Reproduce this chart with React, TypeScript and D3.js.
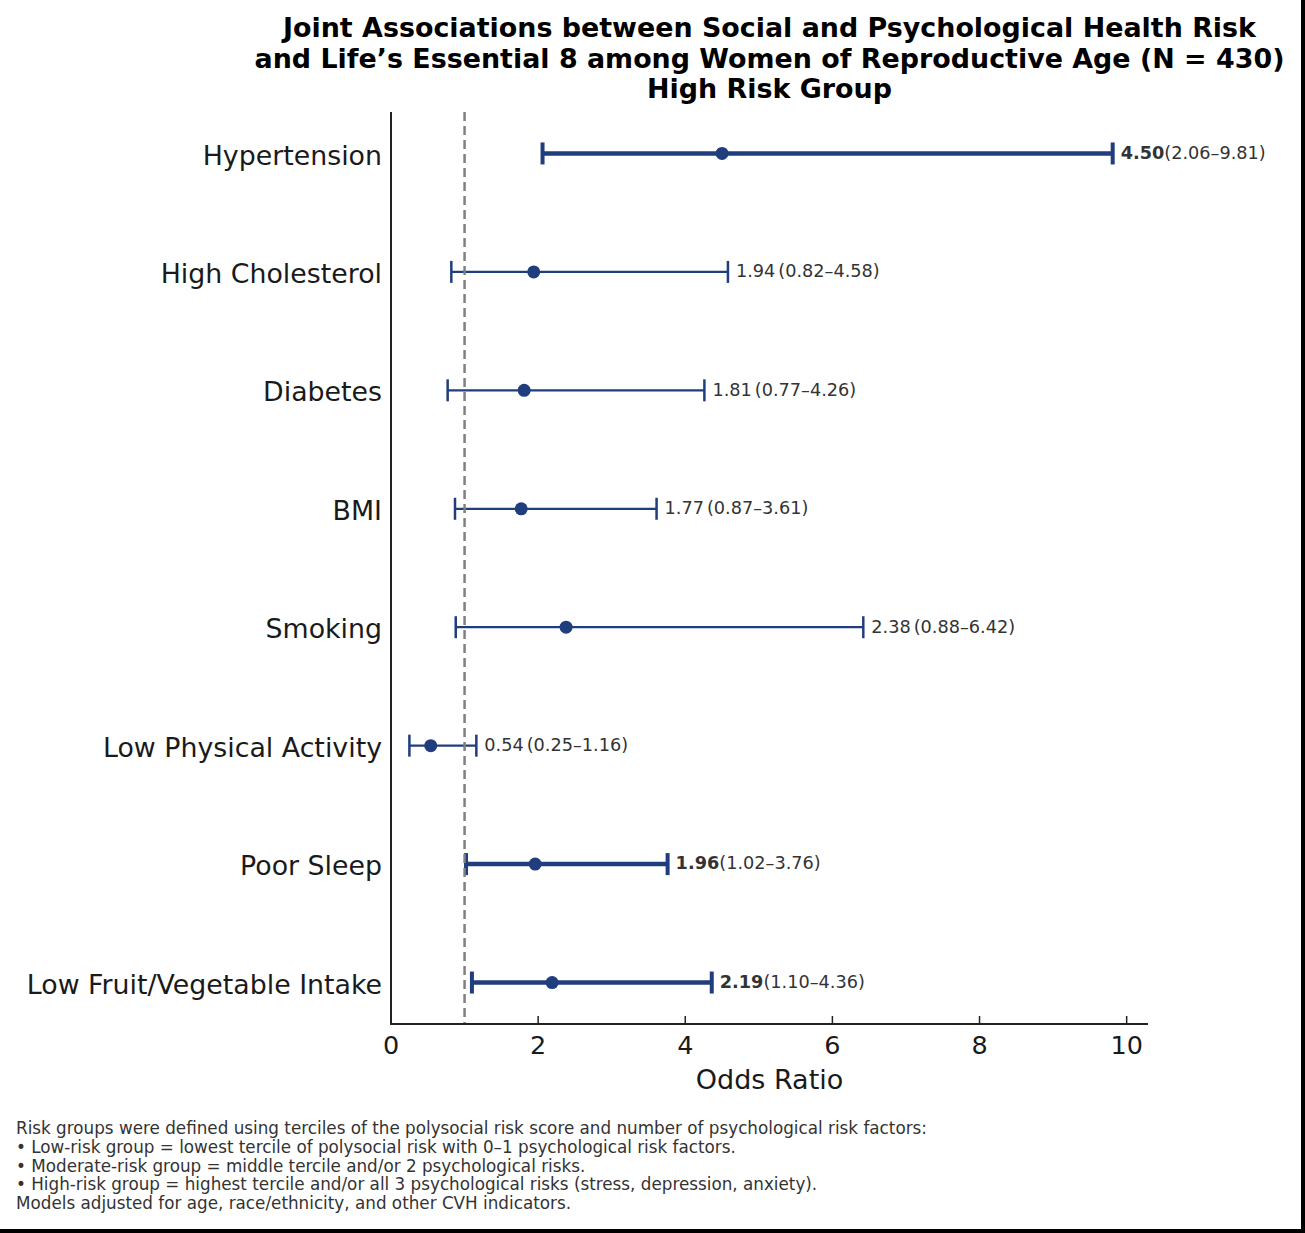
import React from "react";
import * as d3 from "d3";

const categories = [
  "Hypertension",
  "High Cholesterol",
  "Diabetes",
  "BMI",
  "Smoking",
  "Low Physical Activity",
  "Poor Sleep",
  "Low Fruit/Vegetable Intake",
];
const oddsRatios = [4.5, 1.94, 1.81, 1.77, 2.38, 0.54, 1.96, 2.19];
const ciLower = [2.06, 0.82, 0.77, 0.87, 0.88, 0.25, 1.02, 1.1];
const ciUpper = [9.81, 4.58, 4.26, 3.61, 6.42, 1.16, 3.76, 4.36];
const xTicks = [0, 2, 4, 6, 8, 10];

const titleLines = [
  "Joint Associations between Social and Psychological Health Risk",
  "and Life\u2019s Essential 8 among Women of Reproductive Age (N = 430)",
  "High Risk Group",
];
const footnoteLines = [
  "Risk groups were defined using terciles of the polysocial risk score and number of psychological risk factors:",
  "\u2022 Low-risk group = lowest tercile of polysocial risk with 0\u20131 psychological risk factors.",
  "\u2022 Moderate-risk group = middle tercile and/or 2 psychological risks.",
  "\u2022 High-risk group = highest tercile and/or all 3 psychological risks (stress, depression, anxiety).",
  "Models adjusted for age, race/ethnicity, and other CVH indicators.",
];

const W = 1305;
const H = 1233;
const FONT = "'DejaVu Sans', sans-serif";
const NAVY = "#203d7d";

const App: React.FC = () => {
  // plot area
  const left = 391;
  const right = 1148;
  const top = 112;
  const bottom = 1024;

  const x = d3.scaleLinear().domain([0, 10.29]).range([left, right]);
  const y = d3.scalePoint<string>().domain(categories).range([top, bottom]).padding(0.35);

  const fmt = d3.format(".2f");

  return (
    <svg
      width={W}
      height={H}
      style={{ position: "absolute", left: 0, top: 0, fontFamily: FONT }}
    >
      <rect width={W} height={H} fill="white" />

      {/* title */}
      <text textAnchor="middle" fontWeight="bold" fontSize={26.9} fill="#000">
        {titleLines.map((t, i) => (
          <tspan key={i} x={(left + right) / 2} y={37 + i * 30.5}>
            {t}
          </tspan>
        ))}
      </text>

      {/* category labels */}
      {categories.map(c => (
        <text
          key={c}
          x={left - 9}
          y={(y(c) as number) + 1.5}
          dy="0.36em"
          textAnchor="end"
          fontSize={26.8}
          fill="#1a1a1a"
        >
          {c}
        </text>
      ))}

      {/* error bars + points */}
      {categories.map((c, i) => {
        const sig = ciLower[i] > 1;
        const yy = y(c) as number;
        const sw = sig ? 4.5 : 2.2;
        const capW = sig ? 4 : 2.5;
        return (
          <g key={c}>
            <line x1={x(ciLower[i])} x2={x(ciUpper[i])} y1={yy} y2={yy} stroke={NAVY} strokeWidth={sw} />
            <line x1={x(ciLower[i])} x2={x(ciLower[i])} y1={yy - 11} y2={yy + 11} stroke={NAVY} strokeWidth={capW} />
            <line x1={x(ciUpper[i])} x2={x(ciUpper[i])} y1={yy - 11} y2={yy + 11} stroke={NAVY} strokeWidth={capW} />
            <circle cx={x(oddsRatios[i])} cy={yy} r={6.5} fill={NAVY} />
            <text x={x(ciUpper[i]) + 8} y={yy} dy="0.3em" fontSize={17.7} fill="#333">
              {sig ? (
                <>
                  <tspan fontWeight="bold">{fmt(oddsRatios[i])}</tspan>
                  <tspan>{`(${fmt(ciLower[i])}\u2013${fmt(ciUpper[i])})`}</tspan>
                </>
              ) : (
                <>
                  <tspan>{fmt(oddsRatios[i])}</tspan>
                  <tspan dx={3}>{`(${fmt(ciLower[i])}\u2013${fmt(ciUpper[i])})`}</tspan>
                </>
              )}
            </text>
          </g>
        );
      })}

      {/* reference line at OR = 1 */}
      <line
        x1={x(1)}
        x2={x(1)}
        y1={top}
        y2={bottom}
        stroke="#808080"
        strokeWidth={2.5}
        strokeDasharray="9,5"
      />

      {/* spines */}
      <line x1={left} x2={left} y1={top} y2={bottom + 1} stroke="#222" strokeWidth={2} />
      <line x1={left} x2={right} y1={bottom} y2={bottom} stroke="#222" strokeWidth={2} />

      {/* x ticks */}
      {xTicks.map(t => (
        <g key={t}>
          <line x1={x(t)} x2={x(t)} y1={bottom} y2={bottom - 8} stroke="#222" strokeWidth={1.5} />
          <text x={x(t)} y={1054} textAnchor="middle" fontSize={25.5} fill="#1a1a1a">
            {t}
          </text>
        </g>
      ))}
      <text x={(left + right) / 2} y={1089} textAnchor="middle" fontSize={27} fill="#1a1a1a">
        Odds Ratio
      </text>

      {/* footnote */}
      <text fontSize={16.8} fill="#333">
        {footnoteLines.map((t, i) => (
          <tspan key={i} x={16} y={1134 + i * 18.8}>
            {t}
          </tspan>
        ))}
      </text>

      {/* frame edge */}
      <rect x={1301} y={0} width={4} height={H} fill="#000" />
      <rect x={0} y={1229} width={W} height={4} fill="#000" />
    </svg>
  );
};

export default App;
